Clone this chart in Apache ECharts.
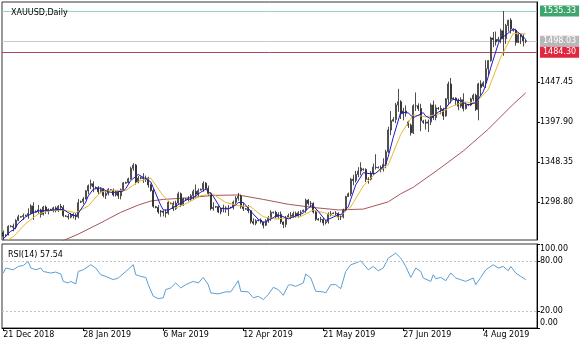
<!DOCTYPE html>
<html><head><meta charset="utf-8">
<script src="https://cdn.jsdelivr.net/npm/echarts@6/dist/echarts.min.js"></script>
<style>html,body{margin:0;padding:0;background:#fff}#c{width:580px;height:343px}</style>
</head><body><div id="c"></div>
<script>
const tickLabels = ['21 Dec 2018','28 Jan 2019','6 Mar 2019','12 Apr 2019','21 May 2019','27 Jun 2019','4 Aug 2019'];
const priceTicks = [1298.80, 1348.35, 1397.90, 1447.45];
const rsiTicks = [0, 20, 80, 100];
const highLevel = 1535.33;
const bidLevel = 1498.03;
const supportLevel = 1484.30;
const rsiLast = 57.54;
// [open, close, low, high]
const candles = [
[1261.0,1256.5,1252.0,1263.5],[1256.8,1258.0,1256.0,1259.0],[1258.0,1268.5,1257.5,1270.0],[1268.5,1268.8,1267.5,1270.0],[1268.8,1267.5,1262.5,1272.0],
[1267.5,1276.0,1265.0,1277.5],[1276.0,1280.5,1275.0,1283.0],[1280.0,1280.8,1279.5,1281.5],[1280.8,1282.0,1276.5,1284.5],[1282.0,1282.5,1281.0,1283.0],
[1282.5,1284.5,1278.0,1291.0],[1284.5,1294.0,1283.5,1296.0],[1294.0,1285.0,1276.5,1298.5],[1286.0,1287.0,1285.5,1288.5],[1287.0,1289.0,1284.0,1295.0],
[1289.0,1283.5,1279.5,1290.5],[1283.5,1292.5,1282.0,1294.0],[1292.5,1287.5,1284.0,1294.5],[1287.5,1289.5,1283.5,1291.0],[1289.0,1289.5,1288.5,1290.5],
[1289.5,1291.5,1286.0,1293.0],[1291.5,1288.5,1286.0,1293.5],[1288.5,1293.5,1286.5,1295.0],[1293.5,1292.0,1288.5,1296.5],[1292.0,1282.0,1280.0,1295.0],
[1281.5,1281.0,1280.5,1282.5],[1281.0,1280.0,1277.0,1284.0],[1280.0,1283.5,1278.5,1285.5],[1283.5,1282.0,1278.5,1285.0],[1282.0,1280.5,1276.5,1285.0],
[1280.5,1298.0,1278.5,1302.5],[1298.5,1299.5,1297.5,1300.5],[1299.5,1302.5,1296.5,1305.0],[1302.5,1312.5,1302.0,1313.5],[1312.5,1319.0,1308.5,1320.5],
[1319.0,1321.5,1315.0,1326.5],[1321.5,1317.5,1311.0,1324.5],[1317.0,1316.5,1315.5,1318.0],[1316.5,1311.5,1308.5,1318.5],[1311.5,1314.5,1309.5,1317.0],
[1314.5,1307.0,1304.5,1316.0],[1307.0,1309.5,1302.5,1312.5],[1309.5,1314.5,1307.0,1316.0],[1314.0,1313.5,1312.5,1314.5],[1313.5,1307.5,1305.5,1315.5],
[1307.5,1311.0,1305.5,1313.5],[1311.0,1306.5,1302.5,1312.5],[1306.5,1314.0,1302.0,1315.5],[1314.0,1322.5,1312.5,1323.5],[1322.0,1323.0,1321.5,1324.0],
[1323.0,1327.5,1321.5,1329.0],[1327.5,1340.5,1326.5,1342.5],[1340.5,1344.5,1337.5,1346.8],[1344.5,1323.5,1320.5,1346.0],[1323.5,1328.5,1322.0,1331.0],
[1328.0,1329.0,1327.0,1330.5],[1329.0,1328.0,1322.5,1334.5],[1328.0,1328.5,1323.5,1331.5],[1328.5,1320.0,1316.5,1330.0],[1320.0,1313.0,1311.5,1321.5],
[1313.0,1293.5,1291.5,1315.0],[1293.0,1292.0,1291.0,1294.0],[1292.0,1286.5,1284.0,1295.0],[1286.5,1287.5,1280.5,1289.0],[1287.5,1286.0,1281.0,1288.5],
[1286.0,1285.0,1279.5,1289.5],[1285.0,1298.5,1283.0,1300.0],[1297.5,1297.0,1296.0,1298.5],[1297.0,1290.5,1287.5,1299.5],[1290.5,1297.5,1289.0,1300.5],
[1297.5,1309.0,1296.5,1311.5],[1309.0,1295.5,1292.5,1310.5],[1295.5,1302.5,1294.0,1304.0],[1302.0,1302.5,1301.0,1303.5],[1302.5,1303.0,1299.5,1306.0],
[1303.0,1306.5,1300.5,1308.5],[1306.5,1312.0,1301.5,1314.5],[1312.0,1308.5,1305.5,1320.5],[1308.5,1313.0,1305.0,1315.5],[1313.5,1314.5,1313.0,1315.5],
[1314.5,1322.0,1311.5,1324.5],[1322.0,1315.5,1313.5,1323.5],[1315.5,1309.5,1306.5,1319.0],[1309.5,1290.5,1288.5,1311.0],[1290.5,1292.0,1288.0,1298.5],
[1292.5,1293.0,1291.5,1294.0],[1293.0,1286.5,1285.0,1294.5],[1286.5,1291.0,1283.5,1292.0],[1291.0,1291.5,1286.0,1295.5],[1291.5,1290.5,1285.5,1293.5],
[1290.5,1291.0,1281.5,1295.0],[1291.5,1292.0,1291.0,1293.0],[1292.0,1298.5,1289.5,1300.5],[1298.5,1303.5,1296.5,1306.0],[1303.5,1306.0,1300.5,1310.0],
[1306.0,1293.0,1290.5,1308.0],[1293.0,1290.5,1287.5,1298.0],[1290.0,1290.5,1289.5,1291.5],[1290.5,1288.0,1285.0,1295.0],[1288.0,1274.5,1272.0,1289.0],
[1274.5,1272.5,1270.5,1278.5],[1272.5,1275.5,1270.0,1277.5],[1275.5,1276.5,1275.0,1277.0],[1276.5,1274.0,1272.0,1278.5],[1274.0,1270.0,1266.0,1274.5],
[1270.0,1275.5,1269.0,1277.5],[1275.5,1279.5,1273.0,1281.5],[1279.5,1286.0,1275.5,1288.5],[1285.5,1286.0,1284.5,1287.0],[1286.0,1280.5,1278.5,1288.0],
[1280.5,1283.5,1277.5,1286.0],[1283.5,1274.0,1271.5,1287.0],[1274.0,1271.0,1266.5,1274.5],[1271.0,1279.0,1267.5,1281.5],[1280.0,1282.0,1279.5,1284.5],
[1282.0,1281.0,1277.5,1286.5],[1281.0,1284.5,1279.0,1287.0],[1284.5,1281.5,1279.5,1287.0],[1281.5,1285.5,1279.5,1287.5],[1285.5,1286.0,1281.5,1288.5],
[1287.0,1288.5,1286.5,1289.5],[1288.5,1301.0,1285.5,1303.0],[1301.0,1297.0,1294.5,1302.5],[1297.0,1297.0,1292.5,1300.0],[1297.0,1286.5,1284.5,1298.5],
[1286.5,1277.5,1275.5,1288.0],[1276.5,1277.5,1276.0,1279.0],[1277.5,1277.0,1273.5,1280.5],[1277.0,1273.0,1269.5,1279.0],[1273.0,1274.5,1271.0,1276.5],
[1274.5,1283.5,1272.0,1286.0],[1283.5,1284.0,1281.0,1287.5],[1284.5,1285.0,1284.0,1286.0],[1285.0,1284.5,1282.5,1287.5],[1284.5,1280.5,1276.5,1286.0],
[1280.5,1280.5,1276.5,1283.5],[1280.5,1288.5,1278.5,1290.5],[1288.5,1305.5,1287.5,1306.5],[1305.5,1309.0,1305.0,1310.5],[1309.0,1327.0,1306.0,1328.5],
[1327.0,1325.5,1319.5,1332.5],[1325.5,1333.0,1323.0,1337.5],[1333.0,1337.0,1329.5,1342.0],[1337.0,1341.0,1332.0,1348.0],[1339.5,1339.0,1337.5,1340.5],
[1339.0,1327.0,1323.5,1340.5],[1327.0,1327.0,1321.5,1329.5],[1327.0,1334.5,1325.5,1337.0],[1334.5,1342.0,1332.0,1346.5],[1342.0,1341.5,1339.0,1358.0],
[1341.0,1341.5,1340.5,1343.0],[1341.5,1339.5,1335.5,1344.0],[1339.5,1345.5,1336.5,1353.0],[1345.5,1361.0,1340.5,1363.5],[1361.0,1388.0,1359.5,1392.0],
[1388.0,1399.5,1381.5,1411.5],[1399.0,1401.0,1398.5,1404.0],[1401.0,1419.0,1396.5,1421.5],[1419.0,1423.0,1410.5,1439.0],[1423.0,1408.0,1401.5,1425.0],
[1408.0,1411.5,1400.0,1415.5],[1411.5,1409.0,1404.5,1418.5],[1398.0,1394.0,1390.5,1399.5],[1394.0,1384.5,1381.0,1396.0],[1384.5,1418.0,1383.0,1420.0],
[1418.0,1418.0,1411.5,1434.5],[1418.0,1414.5,1411.5,1421.0],[1414.5,1399.5,1386.5,1420.5],[1399.0,1397.5,1395.5,1400.5],[1397.5,1396.5,1388.5,1401.0],
[1396.5,1398.0,1385.5,1401.0],[1398.0,1419.0,1394.0,1421.0],[1419.0,1403.5,1400.5,1424.5],[1403.5,1415.5,1400.0,1419.5],[1415.0,1414.5,1413.0,1416.5],
[1414.5,1413.5,1407.5,1418.5],[1413.5,1405.5,1400.5,1415.5],[1405.5,1426.5,1404.5,1427.5],[1426.5,1445.0,1420.5,1448.0],[1445.0,1426.0,1421.0,1452.5],
[1426.5,1427.5,1425.5,1428.5],[1427.5,1424.5,1418.5,1428.5],[1424.5,1417.5,1412.5,1427.0],[1417.5,1425.5,1415.5,1428.5],[1425.5,1414.5,1411.0,1433.5],
[1414.5,1419.0,1413.5,1422.5],[1419.5,1419.0,1418.0,1420.5],[1419.0,1426.5,1417.5,1428.0],[1426.5,1431.0,1423.5,1433.0],[1431.0,1413.5,1411.5,1433.0],
[1413.5,1445.0,1400.0,1446.5],[1445.0,1440.5,1430.0,1449.5],[1442.5,1446.5,1441.5,1448.5],[1446.5,1464.0,1440.0,1474.5],[1464.0,1474.0,1455.5,1474.5],
[1474.0,1502.0,1472.5,1503.5],[1502.0,1500.0,1490.5,1509.5],[1500.0,1497.0,1492.5,1510.0],[1498.5,1500.5,1497.0,1503.5],[1500.5,1511.0,1495.5,1513.5],
[1511.0,1501.0,1480.0,1535.3],[1501.0,1517.5,1494.5,1519.5],[1517.5,1524.0,1510.0,1524.5],[1524.0,1513.5,1507.5,1526.5],[1512.0,1511.5,1510.0,1513.5],
[1511.5,1496.5,1492.5,1513.5],[1496.5,1506.0,1495.5,1508.5],[1506.0,1503.5,1494.5,1507.5],[1503.5,1498.5,1491.5,1506.5],[1498.5,1498.0,1495.5,1500.5]
];
// [bar index, value]
const maFast = [[0,1253],[3,1262.8],[4,1263.9],[6,1272.3],[9,1280.4],[12,1285.6],[14,1287.9],[15,1287.7],[18,1288.4],[19,1288.5],[21,1289.3],[24,1289.5],[27,1283.7],[29,1281.4],[30,1284.8],[33,1298.6],[34,1306.3],[36,1314.6],[39,1316.3],[42,1311.4],[44,1310.4],[45,1311.2],[48,1312.3],[49,1315.4],[51,1325.5],[54,1332.9],[57,1327.5],[59,1323.7],[60,1316.6],[63,1294.5],[64,1289.1],[66,1288.7],[69,1293.7],[72,1299.0],[74,1302.5],[75,1302.0],[78,1308.6],[79,1310.9],[81,1314.7],[84,1305.9],[87,1290.6],[89,1290.5],[90,1290.1],[93,1295.1],[94,1298.2],[96,1298.3],[99,1287.3],[102,1277.4],[104,1273.7],[105,1274.3],[108,1279.4],[109,1281.5],[111,1282.0],[114,1277.9],[117,1281.6],[119,1283.7],[120,1285.2],[123,1293.9],[124,1294.0],[126,1287.1],[129,1275.9],[132,1280.0],[134,1283.5],[135,1282.9],[138,1292.8],[139,1302.1],[141,1320.0],[144,1335.1],[147,1333.7],[149,1334.4],[150,1337.3],[153,1345.8],[154,1355.1],[156,1379.0],[159,1410.1],[162,1409.1],[164,1403.4],[165,1404.7],[168,1409.5],[169,1405.2],[171,1402.1],[174,1410.1],[177,1415.1],[179,1423.3],[180,1426.1],[183,1424.2],[184,1421.9],[186,1419.1],[189,1421.8],[192,1435.3],[194,1454.0],[195,1465.4],[198,1494.7],[199,1502.1],[201,1505.4],[204,1513.5],[207,1506.2],[209,1500.5]];
const maMid = [[0,1248],[4,1255.7],[9,1272.1],[14,1284.1],[19,1288.2],[24,1289.0],[29,1285.5],[34,1293.9],[39,1311.3],[44,1313.4],[49,1312.9],[54,1324.2],[59,1328.3],[64,1306.4],[69,1291.4],[74,1298.1],[79,1306.7],[84,1308.4],[89,1298.2],[94,1294.4],[99,1292.8],[104,1280.5],[109,1277.6],[114,1279.7],[119,1280.8],[124,1288.9],[129,1285.0],[134,1279.7],[139,1292.8],[144,1318.6],[149,1334.8],[154,1344.8],[159,1382.6],[164,1406.8],[169,1404.3],[174,1407.7],[179,1416.7],[184,1422.6],[189,1421.9],[194,1437.9],[199,1478.1],[204,1507.8],[209,1507.0]];
const maSlow = [[20,1245],[24,1251],[30,1259],[39,1273],[47,1286],[54,1295],[59,1300],[64,1302],[74,1304],[84,1307],[94,1307.5],[104,1302],[114,1296],[124,1292],[134,1289],[144,1290],[154,1299],[159,1309],[164,1317],[174,1339],[184,1362],[194,1389],[204,1420],[209,1434]];
const rsi = [[0,65.4],[1,71.4],[4,69.3],[6,73.3],[8,74.4],[10,79.2],[11,71.4],[13,69.3],[15,71.4],[16,67.3],[19,65.4],[21,66.6],[23,64.3],[24,55.5],[26,53.6],[27,55.5],[29,52.4],[30,67.3],[32,69.3],[35,75.3],[37,71.4],[39,63.5],[41,61.4],[44,57.5],[46,59.5],[49,67.3],[52,75.3],[53,63.4],[55,61.4],[57,60.2],[58,51.6],[60,37.8],[62,35.0],[64,35.9],[65,45.7],[67,47.7],[69,53.6],[71,47.7],[73,51.6],[76,55.5],[78,53.6],[80,60.2],[82,51.6],[83,41.8],[86,40.6],[89,43.0],[91,43.0],[94,56.3],[95,43.7],[98,43.0],[100,35.9],[102,37.8],[104,33.8],[106,39.8],[108,48.4],[110,45.7],[112,38.9],[114,50.8],[115,51.6],[117,49.6],[120,53.6],[121,64.3],[123,59.5],[125,43.7],[128,43.0],[129,41.8],[131,51.6],[133,51.6],[135,46.9],[137,67.3],[139,75.3],[141,77.3],[143,80.0],[146,69.3],[148,73.3],[150,68.2],[152,71.4],[154,83.2],[157,89.1],[159,83.2],[161,73.3],[163,60.2],[165,71.4],[167,67.3],[168,59.5],[171,55.5],[172,63.4],[173,58.7],[175,60.2],[177,56.3],[179,65.4],[181,59.5],[183,57.5],[185,55.5],[188,59.5],[189,51.6],[191,60.2],[193,69.3],[196,75.3],[198,71.4],[200,73.3],[202,68.2],[203,73.3],[205,65.4],[207,61.4],[209,57.54]];

const SLOTS = 214;
const slots = Array.from({length: SLOTS}, (_, i) => String(i));
const FONT = 'DejaVu Sans';
const isTick = (i) => i % 32 === 0;

const chart = echarts.init(document.getElementById('c'), null, {renderer: 'canvas'});
const lvlLabel = (bg) => ({show: true, position: 'end', distance: 3, color: '#fff', backgroundColor: bg,
  padding: [2, 3, 1, 3], fontSize: 8, fontFamily: FONT, formatter: (p) => p.value.toFixed(2)});
chart.setOption({
  animation: false,
  backgroundColor: '#fff',
  title: [
    {text: 'XAUUSD,Daily', left: 6, top: 4, textStyle: {fontSize: 8, fontWeight: 'normal', color: '#000', fontFamily: FONT}},
    {text: 'RSI(14) ' + rsiLast.toFixed(2), left: 3, top: 246, textStyle: {fontSize: 8, fontWeight: 'normal', color: '#000', fontFamily: FONT}}
  ],
  grid: [
    {left: 2, right: 43, top: 2, height: 238, show: true, borderColor: '#333', borderWidth: 1, backgroundColor: 'transparent'},
    {left: 2, right: 43, top: 244, height: 84, show: true, borderColor: '#333', borderWidth: 1, backgroundColor: 'transparent'}
  ],
  xAxis: [
    {gridIndex: 0, type: 'category', data: slots, axisLine: {show: false}, axisTick: {show: false}, axisLabel: {show: false}, splitLine: {show: false}},
    {gridIndex: 1, type: 'category', data: slots, axisLine: {show: true, lineStyle: {color: '#000'}},
     axisTick: {show: true, alignWithLabel: true, interval: isTick, length: 3, lineStyle: {color: '#000'}},
     axisLabel: {interval: isTick, formatter: (v, i) => tickLabels[i / 32] || '', align: 'left', fontSize: 8, color: '#000', margin: 3, fontFamily: FONT},
     splitLine: {show: false}}
  ],
  yAxis: [
    {gridIndex: 0, type: 'value', position: 'right', min: 1251.73, max: 1546.55, scale: true,
     axisLine: {show: true, lineStyle: {color: '#000'}},
     axisTick: {show: true, customValues: priceTicks, length: 3, lineStyle: {color: '#000'}},
     axisLabel: {customValues: priceTicks, formatter: (v) => v.toFixed(2), margin: 3, fontSize: 8, color: '#000', fontFamily: FONT},
     splitLine: {show: false}},
    {gridIndex: 1, type: 'value', position: 'right', min: 0, max: 100,
     axisLine: {show: true, lineStyle: {color: '#000'}},
     axisTick: {show: true, customValues: rsiTicks, length: 3, lineStyle: {color: '#000'}},
     axisLabel: {customValues: rsiTicks, margin: 3, fontSize: 8, color: '#000', fontFamily: FONT,
       formatter: (v) => v === 100 ? '{t|100.00}' : (v === 0 ? '{b|0.00}' : v.toFixed(2)),
       rich: {t: {padding: [10, 0, 0, 0], fontSize: 8, fontFamily: FONT, color: '#000'}, b: {padding: [0, 0, 10, 0], fontSize: 8, fontFamily: FONT, color: '#000'}}},
     splitLine: {show: false}}
  ],
  series: [
    {type: 'line', xAxisIndex: 0, yAxisIndex: 0, data: maSlow, symbol: 'none', lineStyle: {color: '#a8545c', width: 1}, z: 2},
    {type: 'candlestick', xAxisIndex: 0, yAxisIndex: 0, data: candles, barWidth: 1.6,
     itemStyle: {color: '#ffffff', color0: '#222222', borderColor: '#222222', borderColor0: '#222222', borderWidth: 0.8}, z: 3,
     markLine: {symbol: 'none', silent: true, animation: false, z: 1,
       data: [
         {yAxis: highLevel, lineStyle: {color: '#8fd5bb', type: 'solid', width: 1}, label: lvlLabel('#3fa56f')},
         {yAxis: bidLevel, lineStyle: {color: '#c8c8c8', type: 'solid', width: 1}, label: lvlLabel('#b8b8b8')},
         {yAxis: supportLevel, lineStyle: {color: '#b0485a', type: 'solid', width: 1}, label: lvlLabel('#e2263e')}
       ]}},
    {type: 'line', xAxisIndex: 0, yAxisIndex: 0, data: maMid, symbol: 'none', lineStyle: {color: '#e8b830', width: 1}, z: 4},
    {type: 'line', xAxisIndex: 0, yAxisIndex: 0, data: maFast, symbol: 'none', lineStyle: {color: '#1c1cc8', width: 1}, z: 5},
    {type: 'line', xAxisIndex: 1, yAxisIndex: 1, data: rsi, symbol: 'none', lineStyle: {color: '#5a9fd6', width: 1},
     markLine: {symbol: 'none', silent: true, animation: false, label: {show: false},
       lineStyle: {color: '#c4c4c4', type: [2, 2], width: 1},
       data: [{yAxis: 80}, {yAxis: 20}]}}
  ]
});
</script></body></html>
